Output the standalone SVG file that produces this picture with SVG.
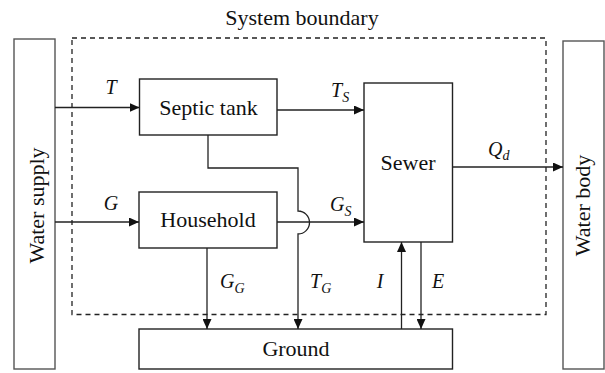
<svg xmlns="http://www.w3.org/2000/svg" width="605" height="373" viewBox="0 0 605 373">
<defs>
<marker id="ah" markerUnits="userSpaceOnUse" markerWidth="11" markerHeight="9" refX="10" refY="4.5" orient="auto">
<path d="M0,0 L10,4.5 L0,9 z" fill="#111"/>
</marker>
<style>
.box{fill:#fff;stroke:#222;stroke-width:1.4}
.side{fill:#fff;stroke:#555;stroke-width:1.4}
.lbl{font-family:"Liberation Serif","Times New Roman",serif;font-size:22px;fill:#111}
.math{font-family:"Liberation Serif","Times New Roman",serif;font-style:italic;font-size:20px;fill:#111}
.sub{font-size:14px}
.arr{fill:none;stroke:#222;stroke-width:1.3;marker-end:url(#ah)}
</style>
</defs>
<rect width="605" height="373" fill="#fff"/>
<g id="boundary">
<rect x="72" y="38" width="474" height="276.5" fill="none" stroke="#222" stroke-width="1.3" stroke-dasharray="5,4"/>
<text class="lbl" x="302" y="25" text-anchor="middle">System boundary</text>
</g>
<g id="water-supply">
<rect class="side" x="14" y="39" width="41" height="330"/>
<text class="lbl" transform="translate(44,205.5) rotate(-90)" text-anchor="middle">Water supply</text>
</g>
<g id="water-body">
<rect class="side" x="563" y="41" width="41" height="328"/>
<text class="lbl" transform="translate(590,205.5) rotate(-90)" text-anchor="middle">Water body</text>
</g>
<g id="septic-tank">
<rect class="box" x="139.5" y="79" width="137.5" height="56"/>
<text class="lbl" x="208.5" y="115" text-anchor="middle">Septic tank</text>
</g>
<g id="household">
<rect class="box" x="139" y="192" width="138" height="56"/>
<text class="lbl" x="208" y="227" text-anchor="middle">Household</text>
</g>
<g id="sewer">
<rect class="box" x="364" y="83" width="88.5" height="159"/>
<text class="lbl" x="408" y="170" text-anchor="middle">Sewer</text>
</g>
<g id="ground">
<rect class="box" x="139" y="329" width="313.5" height="40"/>
<text class="lbl" x="296" y="356" text-anchor="middle">Ground</text>
</g>
<g id="connectors">
<line class="arr" x1="55" y1="107.5" x2="139.5" y2="107.5"/>
<line class="arr" x1="277" y1="110" x2="364" y2="110"/>
<line class="arr" x1="452.5" y1="167" x2="563" y2="167"/>
<line class="arr" x1="55" y1="222" x2="139" y2="222"/>
<line class="arr" x1="277" y1="222" x2="364" y2="222"/>
<path class="arr" d="M208,135 V168 H298 V211 A11.5,11.5 0 0 1 298,234 V329"/>
<line class="arr" x1="207" y1="248" x2="207" y2="329"/>
<line class="arr" x1="401.5" y1="329" x2="401.5" y2="242"/>
<line class="arr" x1="421" y1="242" x2="421" y2="329"/>
</g>
<g id="labels">
<text class="math" x="111" y="94" text-anchor="middle">T</text>
<text class="math" x="331" y="97">T<tspan class="sub" dy="5">S</tspan></text>
<text class="math" x="488" y="156">Q<tspan class="sub" dy="4">d</tspan></text>
<text class="math" x="111" y="210" text-anchor="middle">G</text>
<text class="math" x="330" y="211">G<tspan class="sub" dy="5">S</tspan></text>
<text class="math" x="220" y="288">G<tspan class="sub" dy="5">G</tspan></text>
<text class="math" x="310" y="288">T<tspan class="sub" dy="5">G</tspan></text>
<text class="math" x="380" y="288" text-anchor="middle">I</text>
<text class="math" x="438" y="288" text-anchor="middle">E</text>
</g>
</svg>
